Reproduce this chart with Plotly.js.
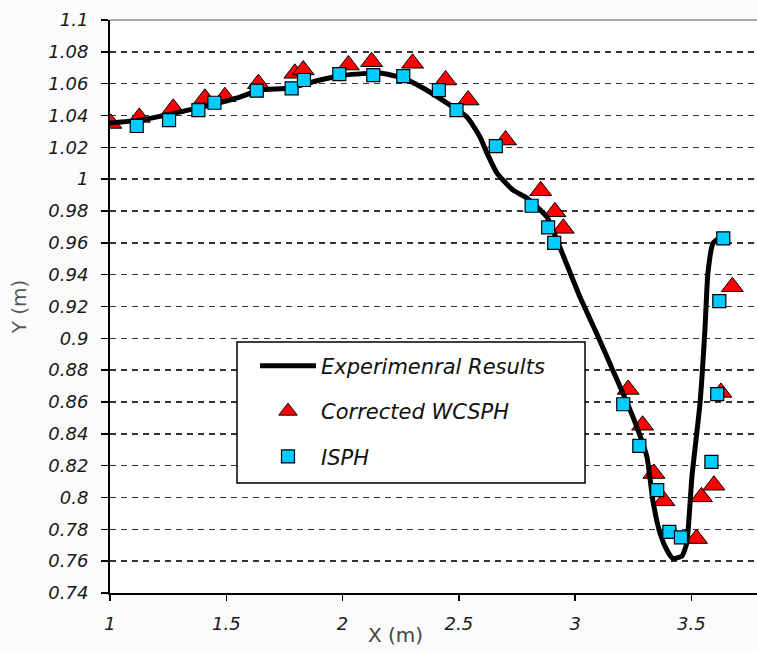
<!DOCTYPE html>
<html>
<head>
<meta charset="utf-8">
<script src="https://cdn.plot.ly/plotly-3.0.1.min.js"></script>
<style>html,body{margin:0;padding:0;background:#fbfbfb;}</style>
</head>
<body>
<div id="chart" style="width:757px;height:651px;"></div>
<script>
// Experimental results (line)
const expX = [1.000, 1.129, 1.279, 1.430, 1.559, 1.645, 1.774, 1.903, 2.010, 2.161, 2.260, 2.346, 2.449, 2.535, 2.591, 2.621, 2.664, 2.733, 2.793, 2.879, 2.922, 3.021, 3.094, 3.162, 3.249, 3.309, 3.334, 3.365, 3.395, 3.420, 3.459, 3.480, 3.493, 3.502, 3.537, 3.558, 3.571, 3.593, 3.632];
const expY = [1.0353, 1.0371, 1.0415, 1.0466, 1.0516, 1.0560, 1.0573, 1.0623, 1.0654, 1.0667, 1.0635, 1.0573, 1.0478, 1.0390, 1.0265, 1.0164, 1.0038, 0.9931, 0.9881, 0.9762, 0.9617, 0.9259, 0.9026, 0.8800, 0.8505, 0.8253, 0.7983, 0.7776, 0.7669, 0.7618, 0.7631, 0.7713, 0.7939, 0.8128, 0.8593, 0.9052, 0.9410, 0.9598, 0.9642];

// Corrected WCSPH (triangles)
const wcX = [1.004, 1.126, 1.272, 1.408, 1.494, 1.638, 1.795, 1.831, 2.025, 2.125, 2.301, 2.443, 2.540, 2.701, 2.852, 2.913, 2.949, 3.228, 3.290, 3.339, 3.382, 3.522, 3.543, 3.597, 3.627, 3.676];
const wcY = [1.0350, 1.0388, 1.0445, 1.0508, 1.0518, 1.0600, 1.0665, 1.0686, 1.0717, 1.0738, 1.0728, 1.0623, 1.0497, 1.0246, 0.9927, 0.9795, 0.9691, 0.8679, 0.8454, 0.8151, 0.7979, 0.7742, 0.8004, 0.8077, 0.8660, 0.9324];

// ISPH (squares)
const isX = [1.115, 1.254, 1.380, 1.449, 1.631, 1.781, 1.834, 1.986, 2.132, 2.261, 2.414, 2.490, 2.659, 2.813, 2.884, 2.910, 3.207, 3.276, 3.353, 3.405, 3.455, 3.586, 3.611, 3.620, 3.637];
const isY = [1.0334, 1.0371, 1.0434, 1.0480, 1.0556, 1.0571, 1.0623, 1.0660, 1.0654, 1.0648, 1.0560, 1.0434, 1.0208, 0.9833, 0.9697, 0.9600, 0.8586, 0.8324, 0.8046, 0.7784, 0.7749, 0.8224, 0.8649, 0.9234, 0.9628];

const seriesNames = ['Experimenral Results', 'Corrected WCSPH', 'ISPH'];

const xTicks = [1, 1.5, 2, 2.5, 3, 3.5];
const xTickText = ['1', '1.5', '2', '2.5', '3', '3.5'];
const yTicks = [0.74, 0.76, 0.78, 0.8, 0.82, 0.84, 0.86, 0.88, 0.9, 0.92, 0.94, 0.96, 0.98, 1, 1.02, 1.04, 1.06, 1.08, 1.1];
const yTickText = ['0.74', '0.76', '0.78', '0.8', '0.82', '0.84', '0.86', '0.88', '0.9', '0.92', '0.94', '0.96', '0.98', '1', '1.02', '1.04', '1.06', '1.08', '1.1'];

const tickFont = {family: 'DejaVu Sans', size: 18, style: 'italic', color: '#1a1a1a'};

const traces = [
  {
    x: wcX, y: wcY, name: seriesNames[1], type: 'scatter', mode: 'markers',
    legendrank: 2, legendgroup: 'b',
    marker: {symbol: 'triangle-up', size: 19, color: '#ff0000', line: {color: '#000', width: 1}}
  },
  {
    x: expX, y: expY, name: seriesNames[0], type: 'scatter', mode: 'lines',
    legendrank: 1, legendgroup: 'a',
    line: {color: '#000', width: 5, shape: 'spline', smoothing: 0.5}
  },
  {
    x: isX, y: isY, name: seriesNames[2], type: 'scatter', mode: 'markers',
    legendrank: 3, legendgroup: 'c',
    marker: {symbol: 'square', size: 13, color: '#00ccff', line: {color: '#000', width: 1.2}}
  }
];

const layout = {
  width: 757, height: 651,
  margin: {l: 110, r: 0, t: 20, b: 58},
  paper_bgcolor: '#fbfbfb',
  plot_bgcolor: '#ffffff',
  showlegend: true,
  xaxis: {
    range: [1, 3.782],
    tickmode: 'array', tickvals: xTicks, ticktext: xTickText,
    showgrid: false, zeroline: false,
    showline: true, linecolor: '#000', linewidth: 2,
    ticks: 'outside', ticklen: 6, tickwidth: 1.5, tickcolor: '#000',
    tickfont: tickFont, ticklabelstandoff: 7
  },
  yaxis: {
    range: [0.74, 1.1],
    tickmode: 'array', tickvals: yTicks, ticktext: yTickText,
    showgrid: true, gridcolor: '#333', gridwidth: 1.5, griddash: '6px,5px',
    zeroline: false,
    showline: true, linecolor: '#000', linewidth: 2,
    ticks: 'outside', ticklen: 7, tickwidth: 1.5, tickcolor: '#000',
    tickfont: tickFont, ticklabelstandoff: 9,
    title: {text: 'Y (m)', font: {family: 'DejaVu Sans', size: 20, color: '#555'}, standoff: 16}
  },
  legend: {
    x: 0.2241, y: 0.4316, xanchor: 'left', yanchor: 'top',
    bgcolor: 'rgba(0,0,0,0)', borderwidth: 0,
    font: {family: 'DejaVu Sans', size: 21, style: 'italic', color: '#111'},
    itemwidth: 56, tracegroupgap: 15
  },
  shapes: [
    {type: 'line', xref: 'paper', yref: 'paper', x0: 0, x1: 1, y0: 1, y1: 1, line: {color: '#aaaaaa', width: 2}},
    {type: 'rect', xref: 'paper', yref: 'paper', x0: 0.1963, x1: 0.7342, y0: 0.192, y1: 0.438,
     fillcolor: '#ffffff', line: {color: '#000', width: 1.5}, layer: 'above'}
  ],
  annotations: [
    {text: 'X (m)', xref: 'paper', yref: 'paper', x: 0.4405, y: -0.0733,
     xanchor: 'center', yanchor: 'middle', showarrow: false,
     font: {family: 'DejaVu Sans', size: 20, color: '#444'}}
  ]
};

Plotly.newPlot('chart', traces, layout, {displayModeBar: false, staticPlot: true});
</script>
</body>
</html>
